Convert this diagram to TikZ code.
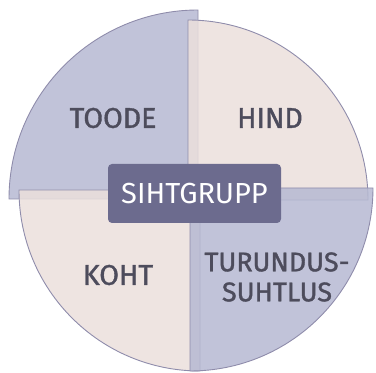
\documentclass[tikz,border=0pt]{standalone}
\usepackage{fontspec}
\setmainfont{Fira Sans}
\newfontfamily\labfont{Fira Sans}[FakeBold=1.3]
\begin{document}
\begin{tikzpicture}[x=1pt,y=1pt]
\definecolor{qblue}{HTML}{B6B9D2}
\definecolor{qpink}{HTML}{EBDFDC}
\definecolor{qedge}{HTML}{8F8CAB}
\definecolor{boxfill}{HTML}{6C6B8E}
\definecolor{labtext}{HTML}{4D4C5C}
\tikzset{
  quad/.style={draw=qedge, line width=0.9pt, fill opacity=0.85},
  lab/.style={text=labtext, font=\labfont\fontsize{28.5}{30}\selectfont, align=center, inner sep=0pt},
  center box/.style={fill=boxfill, draw=none, rounded corners=4pt, text=white,
    minimum width=173pt, minimum height=59pt, inner sep=0pt,
    font=\fontsize{29}{30}\selectfont}
}
\useasboundingbox (0,0) rectangle (376,373);
\clip (0,0) rectangle (376,373);
% quadrants
\path[quad, fill=qblue] (198,174) -- ++(-189,0) arc[start angle=180, end angle=90, radius=189] -- cycle;
\path[quad, fill=qpink] (188,173) -- ++(0,180) arc[start angle=90, end angle=0, radius=180] -- cycle;
\path[quad, fill=qpink] (200,183) -- ++(-181,0) arc[start angle=180, end angle=270, radius=181] -- cycle;
\path[quad, fill=qblue] (190,185) -- ++(183,0) arc[start angle=0, end angle=-90, radius=183] -- cycle;
% labels
\node[lab] (toode) at (113,255) {TOODE};
\node[lab] (hind) at (270,255) {HIND};
\node[lab] (koht) at (118,98) {KOHT};
\node[lab, font=\labfont\fontsize{27}{30}\selectfont] (turundus) at (277,96) {TURUNDUS-\\[0pt]SUHTLUS};
\node[center box] (sihtgrupp) at (194.5,179.5) {SIHTGRUPP};
\end{tikzpicture}
\end{document}
